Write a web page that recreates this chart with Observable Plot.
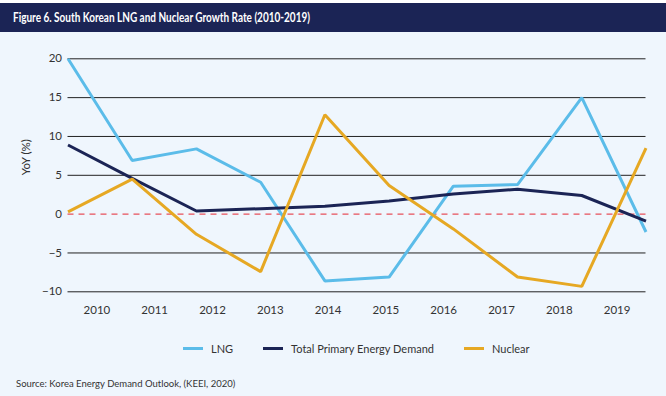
<!DOCTYPE html>
<html>
<head>
<meta charset="utf-8">
<script src="https://cdn.jsdelivr.net/npm/d3@7"></script>
<script src="https://cdn.jsdelivr.net/npm/@observablehq/plot@0.6"></script>
<style>
  html, body { margin: 0; padding: 0; }
  body { width: 666px; height: 396px; background: #eff6fd; position: relative; overflow: hidden;
         font-family: Lato, "Open Sans", sans-serif; color: #333; }
  #topline { position: absolute; left: 0; top: 0; width: 666px; height: 3px; background: #ffffff; }
  #header { position: absolute; left: 0; top: 3px; width: 666px; height: 29px; background: #1b2455; }
  #title { position: absolute; left: 13px; top: 0; line-height: 29px; color: #fff; font-weight: 700;
           font-size: 13.5px; white-space: nowrap; transform-origin: 0 50%; }
  #chart { position: absolute; left: 0; top: 32px; }
  #legend { position: absolute; left: 183px; top: 340px; height: 16px; display: flex; align-items: center;
            font-size: 11px; color: #333; white-space: nowrap; }
  .item { display: flex; align-items: center; margin-right: 30px; }
  .sw { width: 20px; height: 3px; margin-right: 8px; }
  #source { position: absolute; left: 16px; top: 378px; font-size: 9.5px; color: #333; white-space: nowrap; }
</style>
</head>
<body>
<div id="topline"></div>
<div id="header"><div id="title">Figure 6. South Korean LNG and Nuclear Growth Rate (2010-2019)</div></div>
<div id="chart"></div>
<div id="legend"></div>
<div id="source">Source: Korea Energy Demand Outlook, (KEEI, 2020)</div>
<script>
// ---- data ----
const years = [2010, 2011, 2012, 2013, 2014, 2015, 2016, 2017, 2018, 2019];
const lng = [20.0, 6.9, 8.4, 4.1, -8.6, -8.1, 3.6, 3.8, 15.0, -2.3];
const totalPrimary = [8.9, 4.6, 0.4, 0.7, 1.0, 1.7, 2.6, 3.2, 2.4, -0.9];
const nuclear = [0.3, 4.5, -2.6, -7.4, 12.8, 3.7, -1.9, -8.1, -9.3, 8.5];
const seriesNames = ["LNG", "Total Primary Energy Demand", "Nuclear"];
const seriesColors = ["#5bbce9", "#1b2455", "#e6a823"];
const yTicks = [-10, -5, 0, 5, 10, 15, 20];
const yLabel = "YoY (%)";

// ---- build ----
const seriesValues = [lng, totalPrimary, nuclear];
const rows = [];
seriesNames.forEach((name, s) => {
  seriesValues[s].forEach((v, i) => rows.push({ series: name, i, year: years[i], value: v }));
});
const n = years.length;
// category labels sit at band centres across the full width; points sit on the edges
const tickPos = years.map((_, j) => (j + 0.5) * (n - 1) / n);
const tickMap = new Map(tickPos.map((p, j) => [p, years[j]]));

const chart = Plot.plot({
  width: 666,
  height: 300,
  marginLeft: 67.5,
  marginRight: 20.5,
  marginTop: 26.3,
  marginBottom: 40.7,
  style: { background: "transparent", fontFamily: "Lato, 'Open Sans', sans-serif", fontSize: "11.5px", color: "#333" },
  x: { domain: [0, n - 1], axis: null },
  y: { domain: [-10, 20], axis: null },
  color: { domain: seriesNames, range: seriesColors },
  marks: [
    Plot.ruleY(yTicks.filter(d => d !== 0), { stroke: "#222", strokeWidth: 1 }),
    Plot.ruleY([0], { stroke: "#e8505b", strokeWidth: 1.2, strokeDasharray: "6,5" }),
    Plot.axisY(yTicks, { anchor: "left", tickSize: 0, tickPadding: 6, label: null, fill: "#333" }),
    Plot.axisX(tickPos, { anchor: "bottom", tickSize: 0, tickPadding: 14, label: null, fill: "#333",
                          tickFormat: d => String(tickMap.get(d)) }),
    Plot.line(rows, { x: "i", y: "value", z: "series", stroke: "series", strokeWidth: 3,
                      strokeLinejoin: "miter", strokeLinecap: "butt" }),
    Plot.text([yLabel], { frameAnchor: "left", rotate: -90, dx: -42, fill: "#333", fontSize: 11.5 })
  ]
});
document.getElementById("chart").appendChild(chart);

// legend
const legend = document.getElementById("legend");
seriesNames.forEach((name, s) => {
  const item = document.createElement("div");
  item.className = "item";
  const sw = document.createElement("div");
  sw.className = "sw";
  sw.style.background = seriesColors[s];
  const label = document.createElement("span");
  label.textContent = name;
  item.appendChild(sw);
  item.appendChild(label);
  legend.appendChild(item);
});

// fit the condensed title to the reference width
const title = document.getElementById("title");
const w = title.getBoundingClientRect().width;
title.style.transform = `scaleX(${297 / w})`;
</script>
</body>
</html>
